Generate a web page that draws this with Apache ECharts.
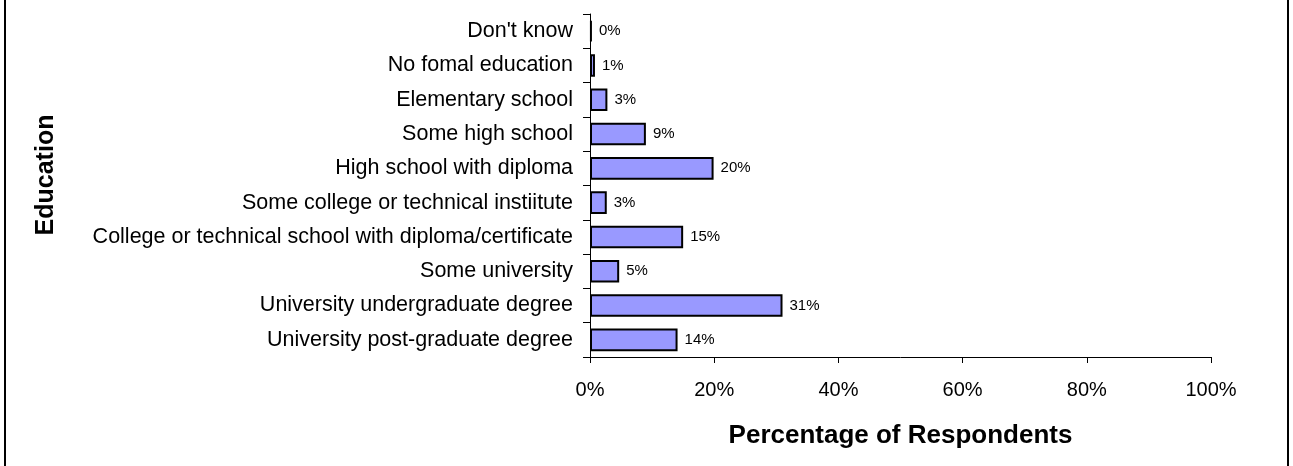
<!DOCTYPE html>
<html>
<head>
<meta charset="utf-8">
<script src="https://cdn.jsdelivr.net/npm/echarts@6/dist/echarts.min.js"></script>
<style>
  html, body { margin: 0; padding: 0; background: #fff; }
  #chart { width: 1293px; height: 466px; }
</style>
</head>
<body>
<div id="chart"></div>
<script>
// Education level of respondents, listed top to bottom
const categories = [
  "Don't know",
  "No fomal education",
  "Elementary school",
  "Some high school",
  "High school with diploma",
  "Some college or technical instiitute",
  "College or technical school with diploma/certificate",
  "Some university",
  "University undergraduate degree",
  "University post-graduate degree"
];
// Share of respondents (%)
const shares = [0.3, 0.8, 2.8, 9.0, 19.9, 2.7, 15.0, 4.7, 31.0, 14.1];
const xTicks = [0, 20, 40, 60, 80, 100];

const chart = echarts.init(document.getElementById('chart'));
const font = 'Liberation Sans, Arial, sans-serif';

chart.setOption({
  animation: false,
  backgroundColor: '#ffffff',
  grid: { left: 590, right: 82, top: 14, bottom: 109, containLabel: false },
  xAxis: {
    type: 'value',
    min: xTicks[0],
    max: xTicks[xTicks.length - 1],
    interval: xTicks[1] - xTicks[0],
    name: 'Percentage of Respondents',
    nameLocation: 'middle',
    nameGap: 66,
    nameTextStyle: { fontFamily: font, fontSize: 26, fontWeight: 'bold', color: '#000' },
    axisLine: { show: true, lineStyle: { color: '#000', width: 1 } },
    axisTick: { show: true, length: 6, lineStyle: { color: '#000' } },
    axisLabel: { formatter: '{value}%', fontFamily: font, fontSize: 20, color: '#000', margin: 23 },
    splitLine: { show: false }
  },
  yAxis: {
    type: 'category',
    data: categories,
    inverse: true,
    axisLine: { show: true, lineStyle: { color: '#000', width: 1 } },
    axisTick: { show: true, length: 7, alignWithLabel: false, lineStyle: { color: '#000' } },
    axisLabel: { fontFamily: font, fontSize: 21.5, color: '#000', margin: 17 },
    splitLine: { show: false }
  },
  series: [{
    type: 'bar',
    data: shares,
    barCategoryGap: '34%',
    itemStyle: { color: '#9999ff', borderColor: '#000', borderWidth: 2 },
    label: {
      show: true,
      position: 'right',
      distance: 7,
      fontFamily: font,
      fontSize: 15,
      color: '#000',
      formatter: p => Math.round(p.value) + '%'
    }
  }],
  graphic: [
    // vertical axis title
    {
      type: 'text',
      x: 46, y: 175,
      rotation: Math.PI / 2,
      style: {
        text: 'Education',
        font: 'bold 25px ' + font,
        fill: '#000',
        align: 'center',
        verticalAlign: 'middle'
      }
    },
    // frame edges
    { type: 'line', shape: { x1: 5, y1: 0, x2: 5, y2: 466 }, style: { stroke: '#000', lineWidth: 2 } },
    { type: 'line', shape: { x1: 1288, y1: 0, x2: 1288, y2: 466 }, style: { stroke: '#000', lineWidth: 2 } }
  ]
});
</script>
</body>
</html>
